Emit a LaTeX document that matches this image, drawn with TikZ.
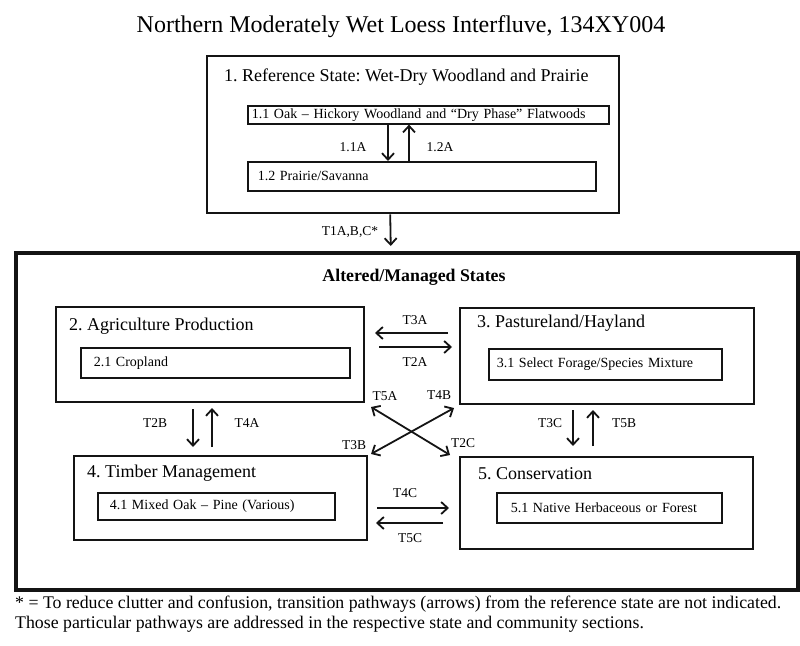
\documentclass[tikz,border=0pt]{standalone}
\usepackage{fontspec}
\setmainfont{Liberation Serif}
\usetikzlibrary{positioning,arrows.meta}
\definecolor{sdInk}{RGB}{20,20,20}
\frenchspacing

\tikzset{
  statebox/.style={draw=sdInk, line width=2pt, inner sep=0pt, anchor=north west},
  phasebox/.style={draw=sdInk, line width=1.6pt, inner ysep=0pt, anchor=north west, align=left, font=\fontsize{14}{15}\selectfont},
  statetitle/.style={anchor=west, inner sep=0pt, font=\fontsize{18}{20}\selectfont},
  trlabel/.style={inner sep=0pt, font=\fontsize{13.5}{15}\selectfont},
  tr/.style={->, sdInk, line width=1.8pt},
}

\begin{document}
\begin{tikzpicture}[x=1pt, y=-1pt, >={Straight Barb[length=6.5pt,width=12pt]}]
  \useasboundingbox (0,0) rectangle (800,645);

  % Title
  \node[font=\fontsize{24}{28}\selectfont] (title) at (401,27) {Northern Moderately Wet Loess Interfluve, 134XY004};

  % Reference state
  \node[statebox, line width=2.4pt, minimum width=412pt, minimum height=157pt] (ref) at (206,55) {};
  \node[statetitle] (refT) at (224,77) {1. Reference State: Wet-Dry Woodland and Prairie};
  \node[phasebox, text width=353pt, inner xsep=4pt, minimum height=18pt] (r11) at (247,105) {1.1 Oak – Hickory Woodland and “Dry Phase” Flatwoods};
  \node[phasebox, text width=328pt, inner xsep=10pt, minimum height=29pt] (r12) at (247,161) {1.2 Prairie/Savanna};
  \draw[tr] ([xshift=141pt]r11.south west) -- ([xshift=141pt]r12.north west);
  \draw[tr] ([xshift=162pt]r12.north west) -- ([xshift=162pt]r11.south west);
  \node[trlabel] (l11A) at (353,147) {1.1A};
  \node[trlabel] (l12A) at (440,147) {1.2A};

  % Altered/managed states
  \node[statebox, line width=3.5pt, minimum width=782pt, minimum height=337pt] (alt) at (14,251) {};
  \node[font=\fontsize{17.8}{20}\selectfont\bfseries] (altT) at (414,277) {Altered/Managed States};
  \draw[tr] ([xshift=-23pt]ref.south) -- ([xshift=-16pt,yshift=5pt]alt.north);
  \node[trlabel] (lT1) at (350,232) {T1A,B,C*};

  % State 2
  \node[statebox, minimum width=308pt, minimum height=95pt] (ag) at (55,306) {};
  \node[statetitle] (agT) at (69,326) {2. Agriculture Production};
  \node[phasebox, text width=243pt, inner xsep=13pt, minimum height=30pt] (p21) at (80,347) {2.1 Cropland};

  % State 3
  \node[statebox, minimum width=294pt, minimum height=96pt] (pas) at (459,307) {};
  \node[statetitle] (pasT) at (477,323) {3. Pastureland/Hayland};
  \node[phasebox, text width=217pt, inner xsep=8pt, minimum height=31pt] (p31) at (488,348) {3.1 Select Forage/Species Mixture};

  % State 4
  \node[statebox, minimum width=293pt, minimum height=84pt] (tim) at (73,455) {};
  \node[statetitle] (timT) at (87,473) {4. Timber Management};
  \node[phasebox, text width=213pt, inner xsep=12pt, minimum height=27pt] (p41) at (97,492) {4.1 Mixed Oak – Pine (Various)};

  % State 5
  \node[statebox, minimum width=293pt, minimum height=92pt] (con) at (459,456) {};
  \node[statetitle] (conT) at (478,474) {5. Conservation};
  \node[phasebox, text width=197pt, inner xsep=14pt, minimum height=30pt] (p51) at (496,492) {5.1 Native Herbaceous or Forest};

  % Transitions
  \draw[tr] ([shift={(-11pt,-26pt)}]pas.north west) -- ([shift={(10pt,-27pt)}]ag.north east);
  \draw[tr] ([shift={(14pt,-41pt)}]ag.north east) -- ([shift={(-7pt,-40pt)}]pas.north west);
  \node[trlabel] (lT3A) at (415,320) {T3A};
  \node[trlabel] (lT2A) at (415,362) {T2A};

  \draw[tr] ([shift={(138pt,-6pt)}]ag.south west) -- ([shift={(120pt,8pt)}]tim.north west);
  \draw[tr] ([shift={(139pt,8pt)}]tim.north west) -- ([shift={(157pt,-5pt)}]ag.south west);
  \node[trlabel] (lT2B) at (155,423) {T2B};
  \node[trlabel] (lT4A) at (247,423) {T4A};

  \draw[tr] ([shift={(114pt,-5pt)}]pas.south west) -- ([shift={(114pt,10pt)}]con.north west);
  \draw[tr] ([shift={(134pt,10pt)}]con.north west) -- ([shift={(134pt,-5pt)}]pas.south west);
  \node[trlabel] (lT3C) at (550,423) {T3C};
  \node[trlabel] (lT5B) at (624,423) {T5B};

  \draw[tr, <->] ([shift={(6pt,-4pt)}]ag.south east) -- ([shift={(-9pt,1pt)}]con.north west);
  \draw[tr, <->] ([shift={(3pt,1pt)}]tim.north east) -- ([shift={(-5pt,-3pt)}]pas.south west);
  \node[trlabel] (lT5A) at (385,396) {T5A};
  \node[trlabel] (lT4B) at (439,395) {T4B};
  \node[trlabel] (lT3B) at (354,445) {T3B};
  \node[trlabel] (lT2C) at (463,443) {T2C};

  \draw[tr] ([shift={(9pt,-53pt)}]tim.north east) -- ([shift={(-10pt,-52pt)}]con.north west);
  \draw[tr] ([shift={(-16pt,-67pt)}]con.north west) -- ([shift={(8pt,-68pt)}]tim.north east);
  \node[trlabel] (lT4C) at (405,493) {T4C};
  \node[trlabel] (lT5C) at (410,538) {T5C};

  % Footnote
  \node[anchor=base west, inner sep=0pt, font=\fontsize{17.8}{20}\selectfont] (note1) at (15,608.5) {* = To reduce clutter and confusion, transition pathways (arrows) from the reference state are not indicated.};
  \node[anchor=base west, inner sep=0pt, font=\fontsize{17.8}{20}\selectfont] (note2) at (15,628.5) {Those particular pathways are addressed in the respective state and community sections.};
\end{tikzpicture}
\end{document}
